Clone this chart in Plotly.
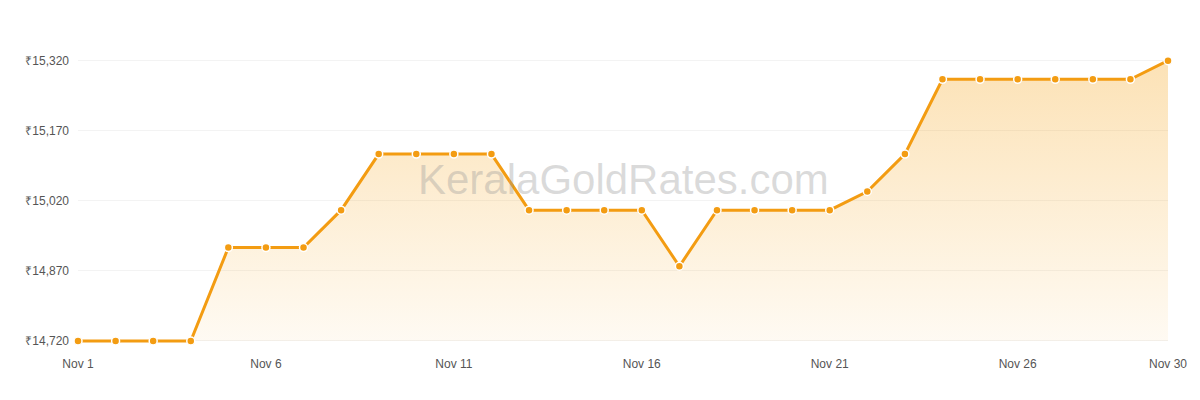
import plotly.graph_objects as go

days = list(range(1, 31))
prices = [14720, 14720, 14720, 14720, 14920, 14920, 14920, 15000, 15120, 15120,
          15120, 15120, 15000, 15000, 15000, 15000, 14880, 15000, 15000, 15000,
          15000, 15040, 15120, 15280, 15280, 15280, 15280, 15280, 15280, 15320]
tick_days = [1, 6, 11, 16, 21, 26, 30]
tick_text = ["Nov %d" % d for d in tick_days]
y_ticks = [14720, 14870, 15020, 15170, 15320]

fig = go.Figure()
fig.add_trace(go.Scatter(x=days, y=[min(prices)] * len(days), mode="lines",
                         line=dict(width=0), hoverinfo="skip", showlegend=False))
fig.add_trace(go.Scatter(
    x=days, y=prices, mode="lines+markers", fill="tonexty", cliponaxis=False,
    fillgradient=dict(type="vertical",
                      colorscale=[[0, "rgba(245,158,11,0.05)"], [1, "rgba(245,158,11,0.3)"]]),
    line=dict(color="#f39c12", width=3),
    marker=dict(size=8, color="#f39c12", line=dict(color="white", width=1.5)),
    showlegend=False))

fig.add_annotation(text="KeralaGoldRates.com", x=0.5, y=0.56, xref="paper", yref="paper",
                   showarrow=False, font=dict(size=42, color="rgba(150,150,150,0.35)",
                                              family="Liberation Sans"))

fig.update_layout(
    width=1200, height=400, plot_bgcolor="white", paper_bgcolor="white",
    margin=dict(l=70, r=40, t=34, b=53),
    font=dict(family="Liberation Sans", size=12, color="#555"),
    xaxis=dict(range=[1, 30], tickvals=tick_days, ticktext=tick_text, automargin=False,
               showgrid=False, zeroline=False, showline=False, ticklen=0),
    yaxis=dict(range=[14690, 15360], tickvals=y_ticks, automargin=False,
               ticktext=["₹{:,}".format(v) for v in y_ticks],
               gridcolor="#f3f3f3", zeroline=False, ticks="", ticklabelstandoff=8),
)
fig.write_html("out.html")
